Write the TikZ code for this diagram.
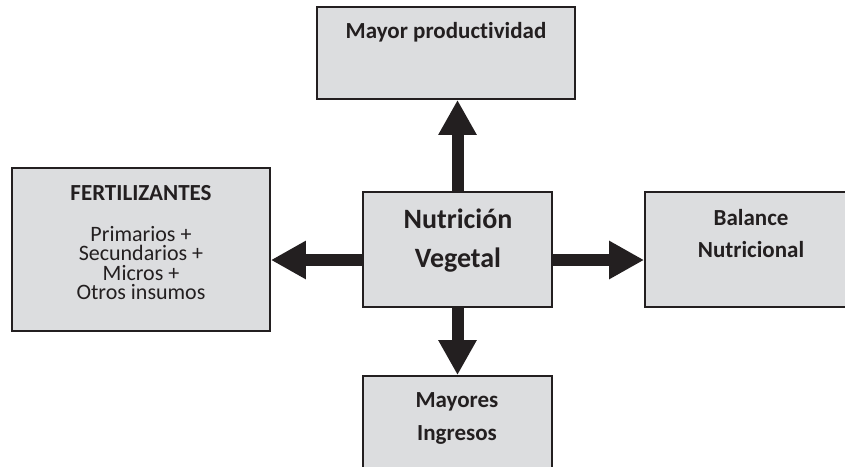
\documentclass[tikz,border=0pt]{standalone}
\usepackage{fontspec}
\setmainfont{Carlito}[Ligatures=NoCommon]
\usetikzlibrary{arrows.meta}
\usepackage{xcolor}
\definecolor{boxgray}{HTML}{DCDDDF}
\definecolor{inkdark}{HTML}{231F20}

\begin{document}
\begin{tikzpicture}[x=1pt, y=-1pt,
 box/.style={draw=inkdark, fill=boxgray, line width=1.8pt, inner sep=0},
 arr/.style={inkdark, line width=12pt, -{Triangle[width=36pt, length=35pt]}},
 lbl/.style={text=inkdark, align=center, inner sep=0}]
\useasboundingbox (0,0) rectangle (845,466);
% boxes
\node[box, minimum width=258pt, minimum height=92pt] (mp) at (446,53) {};
\node[box, minimum width=258pt, minimum height=163pt] (fert) at (141,249.5) {};
\node[box, minimum width=189pt, minimum height=115pt] (nv) at (457.5,249.5) {};
\node[box, minimum width=215pt, minimum height=115pt] (bn) at (752.5,249.5) {};
\node[box, minimum width=189pt, minimum height=110pt] (mi) at (457.5,431) {};
% arrows
\draw[arr] (nv.north) -- (nv.north |- mp.south);
\draw[arr] ([yshift=-10.5pt]nv.west) -- ([yshift=-10.5pt]fert.east);
\draw[arr] ([yshift=-10.5pt]nv.east) -- ([yshift=-10.5pt]bn.west);
\draw[arr] (nv.south) -- (mi.north);
% texts
\node[lbl, font=\bfseries\fontsize{23}{33}\selectfont] (mptxt) at (446,32) {Mayor productividad};
\node[lbl, font=\bfseries\fontsize{23}{33}\selectfont] (ferttit) at (141,193) {FERTILIZANTES};
\node[lbl, font=\fontsize{22}{19.5}\selectfont] (fertlist) at (141,263) {Primarios +\\Secundarios +\\Micros +\\Otros insumos};
\node[lbl, font=\bfseries\fontsize{28}{39}\selectfont] (nvtxt) at (458,240.5) {Nutrición\\Vegetal};
\node[lbl, font=\bfseries\fontsize{23}{32}\selectfont] (bntxt) at (751,234) {Balance\\Nutricional};
\node[lbl, font=\bfseries\fontsize{23}{33}\selectfont] (mitxt) at (457,418.5) {Mayores\\Ingresos};
\end{tikzpicture}
\end{document}
